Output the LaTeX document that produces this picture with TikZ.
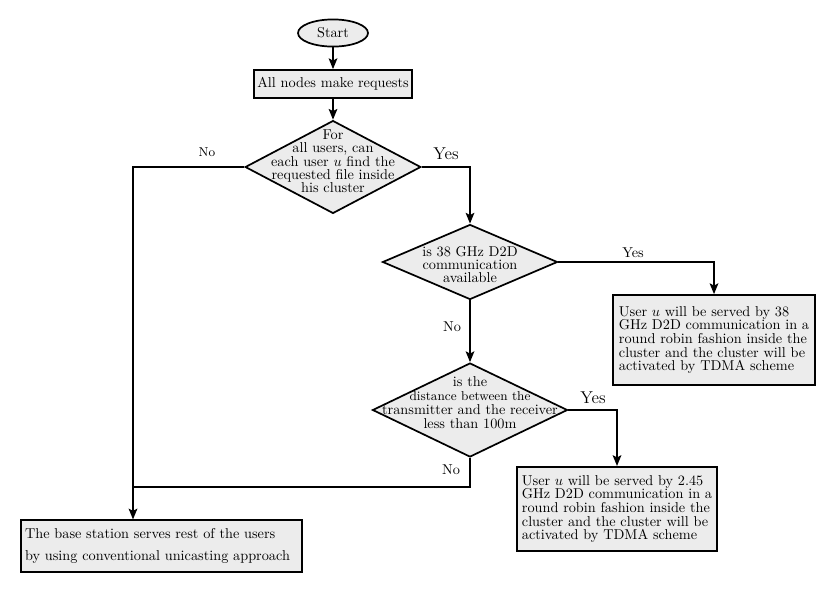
\documentclass[tikz,border=0pt]{standalone}
\usepackage{amsmath}
\usepackage{tikz}
\usetikzlibrary{arrows.meta}
\usetikzlibrary{calc}
\usetikzlibrary{shapes.geometric}

\begin{document}
\begin{tikzpicture}[>={Stealth[length=7.5pt, width=6pt, inset=1.5pt]}, x=0.7pt, y=-0.7pt,
    freccia/.style={line width=1.4pt, ->},
    linea/.style={line width=1.4pt},
    blocco/.style={draw, line width=1.2pt, fill=gray!15, inner sep=3pt, align=left,
        font=\fontsize{10}{9.6}\selectfont},
    rombo/.style={draw, diamond, line width=1.2pt, fill=gray!15, inner sep=0pt},
    testorombo/.style={align=center, font=\fontsize{10}{9.2}\selectfont},
    etich/.style={inner sep=1pt}]

    \useasboundingbox (0,0) rectangle (817,613);

    % === 1. Inizio e richieste ===
    \node[draw, ellipse, line width=1.2pt, fill=gray!15, inner sep=0pt,
        minimum width=49pt, minimum height=19pt] (start) at (333,33) {Start};
    \node[blocco, inner sep=2pt, minimum width=111pt, minimum height=19.6pt] (richieste) at (333,84)
        {All nodes make requests};

    % === 2. Rombi di decisione ===
    \node[rombo, minimum width=123pt, minimum height=65pt,
        label={[testorombo, yshift=4pt]center:For\\all users, can\\each user $u$ find the\\requested file inside\\his cluster}]
        (cluster) at (333,167) {};
    \node[rombo, minimum width=122.5pt, minimum height=52.5pt,
        label={[testorombo, yshift=-2pt]center:is 38 GHz D2D\\communication\\available}]
        (d2d38) at (470,262) {};
    \node[rombo, minimum width=136.5pt, minimum height=65.8pt,
        label={[testorombo, yshift=5pt, font=\fontsize{10}{9.8}\selectfont]center:is the\\{\small distance between the}\\transmitter and the receiver\\less than 100m}]
        (distanza) at (470,410) {};

    % === 3. Blocchi finali ===
    \node[blocco, minimum width=141pt, minimum height=63pt] (servito38) at (714,340)
        {User $u$ will be served by 38\\GHz D2D communication in a\\round robin fashion inside the\\cluster and the cluster will be\\activated by TDMA scheme};
    \node[blocco, minimum width=140pt, minimum height=59pt] (servito245) at (617,509)
        {User $u$ will be served by 2.45\\GHz D2D communication in a\\round robin fashion inside the\\cluster and the cluster will be\\activated by TDMA scheme};
    \node[blocco, font=\fontsize{10}{15.4}\selectfont, text width=191pt, minimum height=36pt]
        (stazione) at (161.5,546)
        {The base station serves rest of the users\\by using conventional unicasting approach};

    % === 4. Collegamenti ===
    \coordinate (angolo) at (133,167);
    \coordinate (giunto) at (133,487);

    \draw[freccia] (start) -- (richieste);
    \draw[freccia] (richieste) -- (cluster.north);
    \draw[freccia] (cluster.east) -| (d2d38.north);
    \draw[freccia] (d2d38.east) -| (servito38.north);
    \draw[freccia] (d2d38.south) -- (distanza.north);
    \draw[freccia] (distanza.east) -| (servito245.north);
    \draw[linea] (distanza.south) |- (giunto);
    \draw[freccia] (cluster.west) -- (angolo) -- (angolo |- stazione.north);

    % === 5. Etichette Yes / No ===
    \node[etich, font=\small] (no1) at (207,152) {No};
    \node[etich, font=\large] (si1) at (446,154) {Yes};
    \node[etich] (si2) at (633,253) {Yes};
    \node[etich] (no2) at (452,327) {No};
    \node[etich, font=\large] (si3) at (593,398) {Yes};
    \node[etich] (no3) at (451,470) {No};

\end{tikzpicture}
\end{document}
